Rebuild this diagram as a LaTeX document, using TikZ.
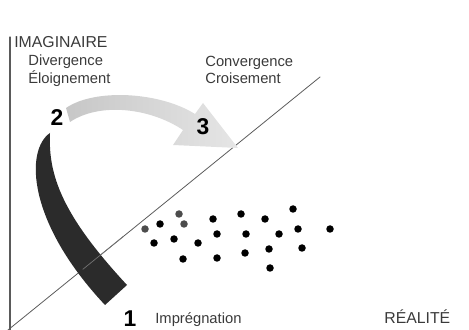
\documentclass[tikz,border=0pt]{standalone}
\usepackage{fontspec}
\setmainfont{Liberation Sans}
\usetikzlibrary{calc}

\definecolor{inkgray}{HTML}{3A3A3A}
\definecolor{axisgray}{HTML}{5A5A5A}
\definecolor{bandblack}{HTML}{2B2B2B}

\begin{document}
\begin{tikzpicture}[x=0.02cm, y=-0.02cm, line cap = round, line join = round]
\tikzstyle{word}=[inner sep=0, text=inkgray, font=\fontsize{8.4}{10}\selectfont]
\tikzstyle{axisword}=[inner sep=0, text=inkgray, font=\fontsize{9}{11}\selectfont]
\tikzstyle{number}=[inner sep=0, text=black, font=\fontsize{13}{15}\selectfont\bfseries]
\tikzstyle{point}=[circle, fill=black, inner sep=0, minimum size=0.15cm]
\tikzstyle{point2}=[circle, fill=black!70, inner sep=0, minimum size=0.15cm]
\useasboundingbox (0,0) rectangle (469,330);

\coordinate (top) at (10,37);
\coordinate (origin) at (10,330);
\coordinate (low) at (8,330);
\coordinate (high) at (320,77);

% axis and diagonal
\draw[axisgray, line width=0.6pt] (top) -- (origin);
\draw[axisgray, line width=0.45pt] (low) -- (high);

% grey arrow 2 -> 3
\shade[left color=black!22, right color=black!10]
  (66,108) .. controls (95,88) and (160,92) .. (195,114)
  -- (203,103) -- (238,148) -- (173,145) -- (183,130)
  .. controls (150,108) and (100,102) .. (70,122) -- cycle;

% dark band 2 -> 1
\fill[bandblack] (50,133) .. controls (25,150) and (27,222) .. (105,305)
  -- (127,285) .. controls (62,215) and (48,175) .. (50,133) -- cycle;
\draw[black!55, line width=0.4pt] ($(low)!0.24!(high)$) -- ($(low)!0.37!(high)$);

% labels
\node[axisword, anchor=base west] (imag) at (14,48) {IMAGINAIRE};
\node[word, anchor=base west] (div) at (28,66) {Divergence};
\node[word, anchor=base west] (eloi) at (28,84) {Éloignement};
\node[word, anchor=base west] (conv) at (205,67) {Convergence};
\node[word, anchor=base west] (crois) at (205,84) {Croisement};
\node[word, anchor=base west] (impr) at (155,323) {Imprégnation};
\node[axisword, anchor=base west] (real) at (384,323) {RÉALITÉ};

\node[number, anchor=base] (one) at (130,326) {1};
\node[number, anchor=base] (two) at (57,126) {2};
\node[number, anchor=base] (three) at (203,135) {3};

% dots
\node[point2] (d1) at (145,229) {}; \node[point] (d2) at (160,224) {};
\node[point2] (d3) at (179,214) {}; \node[point2] (d4) at (184,224) {};
\node[point] (d5) at (154,243) {}; \node[point] (d6) at (174,239) {};
\node[point] (d7) at (198,243) {}; \node[point] (d8) at (183,259) {};
\node[point] (d9) at (213,219) {}; \node[point] (d10) at (217,234) {};
\node[point] (d11) at (217,258) {}; \node[point] (d12) at (241,214) {};
\node[point] (d13) at (246,234) {}; \node[point] (d14) at (245,253) {};
\node[point] (d15) at (265,219) {}; \node[point] (d16) at (279,234) {};
\node[point] (d17) at (269,249) {}; \node[point] (d18) at (270,268) {};
\node[point] (d19) at (293,209) {}; \node[point] (d20) at (298,229) {};
\node[point] (d21) at (302,248) {}; \node[point] (d22) at (330,229) {};
\end{tikzpicture}
\end{document}
